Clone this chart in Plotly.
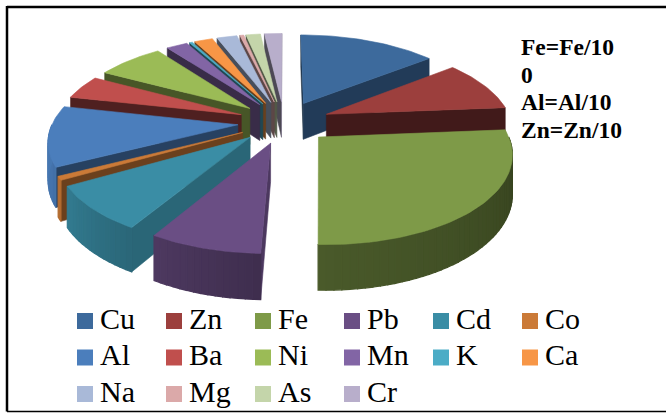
import numpy as np
import plotly.graph_objects as go

# Share of each element (percent), clockwise from twelve o'clock
metals = ["Cu", "Zn", "Fe", "Pb", "Cd", "Co", "Al", "Ba", "Ni", "Mn", "K", "Ca", "Na", "Mg", "As", "Cr"]
values = [14.3, 9.4, 26.8, 8.0, 8.2, 0.7, 11.1, 4.4, 6.9, 2.2, 0.3, 1.9, 2.1, 0.4, 1.5, 1.8]
colors = ["#3d6a9c", "#9c3f3d", "#7e9a48", "#6a4e84", "#3a8da5", "#cb7a37", "#4b7ebc", "#c04f4d",
          "#9bbb56", "#8265a5", "#4bacc6", "#f79646", "#a9b9d8", "#dba9a9", "#c4d5aa", "#b8aecb"]
note_lines = ["Fe=Fe/10", "0", "Al=Al/10", "Zn=Zn/10"]

# Perspective view of the pie, in page units
CX, CY = 284, 122
RX, RY = 185, 85
PERSPECTIVE = 0.16
EXPLODE = 0.25
THICKNESS = 37
SERIF = "Liberation Serif"


def project(theta, radius, bisector, drop=0.0):
    """Map a point on the exploded slice to the page; theta in degrees."""
    t, b = np.radians(theta), np.radians(bisector)
    u = radius * np.sin(t) + EXPLODE * np.sin(b)
    v = radius * np.cos(t) + EXPLODE * np.cos(b)
    w = 1 + PERSPECTIVE * v
    return CX + RX * u / w, CY - RY * v / w + drop / w


def shade(hex_color, factor):
    rgb = [int(hex_color[i:i + 2], 16) for i in (1, 3, 5)]
    return "rgb({},{},{})".format(*[int(round(c * factor)) for c in rgb])


def wall_factor(theta):
    return np.interp(theta, [90, 180, 215, 250, 270], [0.42, 0.58, 0.75, 0.92, 0.95])


def face_factor(normal):
    return np.interp(normal % 360, [125, 137, 175, 193, 215, 240], [0.72, 0.58, 0.42, 0.41, 0.48, 0.42])


def polygon(xs, ys, color, edge=0.6):
    return go.Scatter(x=list(xs) + [xs[0]], y=list(ys) + [ys[0]], mode="lines", fill="toself",
                      fillcolor=color, line=dict(color=color, width=edge),
                      showlegend=False, hoverinfo="skip")


fig = go.Figure()

edges = np.concatenate([[0], np.cumsum(values)]) / np.sum(values) * 360
slices = []
for i, name in enumerate(metals):
    slices.append((edges[i], edges[i + 1], colors[i], name))
slices.sort(key=lambda s: -np.cos(np.radians((s[0] + s[1]) / 2)))

for start, end, color, name in slices:
    mid = (start + end) / 2
    ax, ay = project(0, 0, mid)
    inner_x, inner_y = project(mid, 0.6, mid)

    # Straight cut faces, only where they turn towards the viewer
    for edge, normal in ((start, start - 90), (end, end + 90)):
        bx, by = project(edge, 1, mid)
        dx, dy = bx - ax, by - ay
        side_interior = dx * (inner_y - ay) - dy * (inner_x - ax)
        side_down = dx
        if side_interior * side_down < 0:
            ax2, ay2 = project(0, 0, mid, THICKNESS)
            bx2, by2 = project(edge, 1, mid, THICKNESS)
            fig.add_trace(polygon([ax, bx, bx2, ax2], [ay, by, by2, ay2],
                                  shade(color, face_factor(normal))))

    # Curved rim on the near half of the pie, shaded in narrow strips
    lo, hi = max(start, 90), min(end, 270)
    if hi > lo:
        steps = max(1, int(np.ceil((hi - lo) / 2)))
        marks = np.linspace(lo, hi, steps + 1)
        for a, b in zip(marks[:-1], marks[1:]):
            x1, y1 = project(a, 1, mid)
            x2, y2 = project(b, 1, mid)
            x3, y3 = project(b, 1, mid, THICKNESS)
            x4, y4 = project(a, 1, mid, THICKNESS)
            fig.add_trace(polygon([x1, x2, x3, x4], [y1, y2, y3, y4],
                                  shade(color, wall_factor((a + b) / 2)), edge=1.2))

    # Top surface
    arc = np.linspace(start, end, max(3, int((end - start) / 1.5) + 2))
    px, py = project(arc, 1, mid)
    fig.add_trace(polygon([ax] + list(px), [ay] + list(py), color))

# Key: six columns by three rows
col_x = [85 + 89 * (i % 6) for i in range(len(metals))]
row_y = [321 + 36.5 * (i // 6) for i in range(len(metals))]
fig.add_trace(go.Scatter(x=col_x, y=row_y, mode="markers",
                         marker=dict(symbol="square", size=16, color=colors, line=dict(width=0)),
                         showlegend=False, hoverinfo="skip"))
fig.add_trace(go.Scatter(x=[x + 15 for x in col_x], y=row_y, mode="text", text=metals,
                         textposition="middle right",
                         textfont=dict(family=SERIF, size=30, color="black"),
                         showlegend=False, hoverinfo="skip"))

# Scaling note beside the pie
annotations = [
    dict(x=521, y=47 + 27.6 * i, text=f"<b>{line}</b>", xref="x", yref="y", xanchor="left", yanchor="middle",
         showarrow=False, font=dict(family=SERIF, size=23.5, color="black"), xshift=-2)
    for i, line in enumerate(note_lines)
]

frame = dict(color="black", width=2.5)
shapes = [
    dict(type="line", xref="paper", yref="paper", x0=7 / 666, x1=1, y0=1 - 7 / 413, y1=1 - 7 / 413, line=frame),
    dict(type="line", xref="paper", yref="paper", x0=7 / 666, x1=7 / 666, y0=1 - 6 / 413, y1=1 - 411.5 / 413, line=frame),
    dict(type="line", xref="paper", yref="paper", x0=7 / 666, x1=1, y0=1 - 411.5 / 413, y1=1 - 411.5 / 413,
         line=dict(color="black", width=1.5)),
]

fig.update_layout(
    width=666, height=413, margin=dict(l=0, r=0, t=0, b=0),
    paper_bgcolor="white", plot_bgcolor="white", showlegend=False,
    xaxis=dict(range=[0, 666], visible=False, fixedrange=True),
    yaxis=dict(range=[413, 0], visible=False, fixedrange=True),
    annotations=annotations, shapes=shapes,
)
fig.write_html("out.html", config={"displayModeBar": False})
